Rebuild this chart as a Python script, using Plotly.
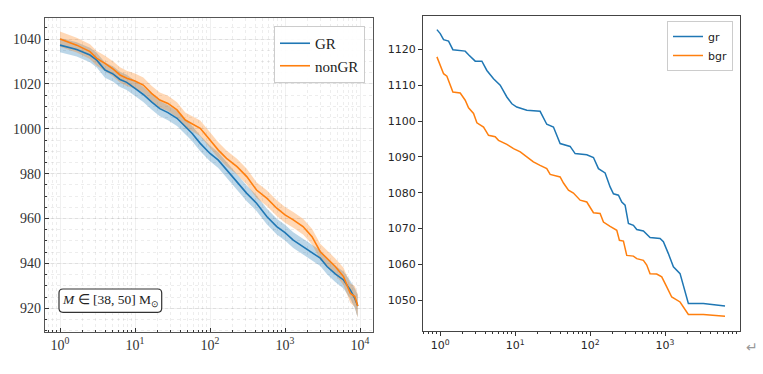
import plotly.graph_objects as go

# ---------------- data: left panel ----------------
left_x = [1, 1.67, 2.51, 3.09, 3.98, 5.13, 6.31, 7.76, 10, 12.9, 16.6, 21.4, 27.5, 36.3,
          46.8, 57.5, 74.1, 100, 129, 166, 229, 309, 417, 575, 776, 1000, 1288, 1738,
          2291, 2951, 3631, 4677, 6026, 7413, 8511, 9333]
gr_left = [1037.3, 1035.4, 1032.9, 1030.6, 1026.2, 1024.4, 1022, 1020.7, 1018, 1015.3,
           1012, 1009, 1007.2, 1004.7, 1001, 998, 993.5, 989, 986, 981.6, 976.4, 971.2,
           966.8, 960.8, 956.4, 953.7, 950.4, 947.5, 944.5, 942.3, 938.6, 935.3, 932.6,
           928.2, 924.4, 921]
nongr_left = [1040, 1037.3, 1034.4, 1031.4, 1029.2, 1026.6, 1024, 1022.5, 1021.3, 1019.5,
              1015.8, 1012.8, 1011.3, 1008.4, 1003.9, 1002.4, 1000.2, 995, 990.5, 986.8,
              983.1, 978.7, 972.7, 969, 964.6, 961.6, 959.4, 956.4, 951.9, 945.2, 942.3,
              938.6, 934.1, 926.7, 925.2, 921]
gr_err = [3.2, 3.2, 3.2, 3.3, 3.4, 3.4, 3.4, 3.4, 3.4, 3.4, 3.4, 3.4, 3.4, 3.4, 3.4, 3.4,
          3.5, 3.5, 3.5, 3.5, 3.5, 3.5, 3.5, 3.5, 3.5, 3.5, 3.5, 3.5, 3.5, 3.5, 3.5, 3.6,
          3.8, 4.0, 4.4, 5.0]
nongr_err = [3.4, 3.3, 3.3, 3.3, 3.4, 3.4, 3.4, 3.4, 3.4, 3.4, 3.4, 3.4, 3.4, 3.4, 3.4,
             3.4, 3.5, 3.5, 3.5, 3.5, 3.5, 3.5, 3.5, 3.5, 3.5, 3.5, 3.5, 3.5, 3.5, 3.5,
             3.5, 3.6, 3.9, 4.3, 4.7, 5.2]

# ---------------- data: right panel ----------------
gr_x = [0.903, 1.0, 1.108, 1.291, 1.475, 2.154, 2.387, 2.929, 3.594, 4.19, 5.14, 6.31,
        7.74, 9.03, 10.5, 14.3, 21.5, 23.9, 26.4, 32.4, 39.8, 54.1, 63.1, 90.3, 110.8,
        129.2, 158.5, 184.8, 204.8, 238.8, 264.5, 292.9, 324.4, 378.3, 419, 514, 569.8,
        631, 857.6, 950, 1107, 1292, 1585, 2047, 3245, 6310]
gr_y = [1125.5, 1124.4, 1122.7, 1122.3, 1119.9, 1119.5, 1118.5, 1116.7, 1116.7, 1114.1,
        1111.8, 1110, 1106.7, 1104.8, 1103.9, 1103, 1102.7, 1100.7, 1099.1, 1098.3,
        1093.7, 1092.9, 1090.9, 1090.6, 1089.8, 1086.7, 1085.5, 1081.6, 1079.7, 1079.3,
        1077.4, 1076.5, 1071.4, 1070.9, 1069.7, 1069.3, 1068.4, 1067.5, 1067.2, 1066.3,
        1063, 1059.3, 1057.4, 1049.1, 1049.1, 1048.4]
bgr_x = [0.903, 1.0, 1.108, 1.227, 1.359, 1.475, 1.848, 2.154, 2.387, 2.783, 3.084, 3.784,
         4.41, 5.41, 5.99, 7.74, 9.51, 11.7, 14.3, 17.5, 21.5, 26.4, 29.3, 39.8, 44.1,
         51.4, 59.9, 73.6, 90.3, 110.8, 135.9, 150.6, 184.8, 226.9, 246, 278.3, 308.2,
         378.3, 419, 514, 569.8, 631, 774, 903, 1053, 1227, 1585, 2047, 3245, 6310]
bgr_y = [1117.9, 1115.5, 1113.2, 1112.5, 1110, 1108.1, 1107.8, 1105.8, 1103.7, 1102.1,
         1099.5, 1098.3, 1096, 1095.6, 1094.6, 1093.5, 1092.3, 1091.4, 1090, 1088.6,
         1087.6, 1086.7, 1085.1, 1084.4, 1082.7, 1080.7, 1079.9, 1077.9, 1077.4, 1074.4,
         1074.2, 1071.8, 1070.6, 1069.5, 1066.7, 1066.5, 1062.5, 1062.3, 1061.6, 1061.1,
         1059.8, 1057.4, 1057.3, 1056.5, 1053.7, 1050.9, 1049.5, 1046, 1046, 1045.5]

left_ytick = [920, 940, 960, 980, 1000, 1020, 1040]
right_ytick = [1050, 1060, 1070, 1080, 1090, 1100, 1110, 1120]
left_xtick = [1, 10, 100, 1000, 10000]
left_xlabel = ["10<sup>0</sup>", "10<sup>1</sup>", "10<sup>2</sup>", "10<sup>3</sup>", "10<sup>4</sup>"]
right_xtick = [1, 10, 100, 1000]
right_xlabel = ["10<sup>0</sup>", "10<sup>1</sup>", "10<sup>2</sup>", "10<sup>3</sup>"]

BLUE = "#1f77b4"
ORANGE = "#ff7f0e"
SERIF = "Liberation Serif"
SANS = "DejaVu Sans"

minor_vals = [m * 10 ** d for d in range(-1, 5) for m in range(2, 10)]

fig = go.Figure()

# bands
for y, e, col in [(gr_left, gr_err, "rgba(31,119,180,0.3)"), (nongr_left, nongr_err, "rgba(255,127,14,0.3)")]:
    fig.add_trace(go.Scatter(x=left_x, y=[a + b for a, b in zip(y, e)], mode="lines",
                             line=dict(width=0, color=col), showlegend=False, hoverinfo="skip",
                             xaxis="x", yaxis="y"))
    fig.add_trace(go.Scatter(x=left_x, y=[a - b for a, b in zip(y, e)], mode="lines",
                             line=dict(width=0, color=col), fill="tonexty", fillcolor=col,
                             showlegend=False, hoverinfo="skip", xaxis="x", yaxis="y"))

fig.add_trace(go.Scatter(x=left_x, y=gr_left, mode="lines", name="GR",
                         line=dict(color=BLUE, width=1.6), xaxis="x", yaxis="y", legend="legend"))
fig.add_trace(go.Scatter(x=left_x, y=nongr_left, mode="lines", name="nonGR",
                         line=dict(color=ORANGE, width=1.6), xaxis="x", yaxis="y", legend="legend"))

fig.add_trace(go.Scatter(x=gr_x, y=gr_y, mode="lines", name="gr",
                         line=dict(color=BLUE, width=1.5), xaxis="x2", yaxis="y2", legend="legend2"))
fig.add_trace(go.Scatter(x=bgr_x, y=bgr_y, mode="lines", name="bgr",
                         line=dict(color=ORANGE, width=1.5), xaxis="x2", yaxis="y2", legend="legend2"))

W, H = 763, 374
lx0, lx1, ly0, ly1 = 45, 373, 18, 332
rx0, rx1, ry0, ry1 = 423, 740, 16, 331

def px(v):
    return v / W

def py(v):
    return 1 - v / H

grid_major = "rgba(0,0,0,0.06)"
grid_minor = "rgba(0,0,0,0.07)"

fig.update_layout(
    width=W, height=H,
    margin=dict(l=0, r=0, t=0, b=0),
    paper_bgcolor="white", plot_bgcolor="white",
    font=dict(family=SERIF),
    xaxis=dict(domain=[px(lx0), px(lx1)], anchor="y", type="log", range=[-0.2, 4.173],
               tickmode="array", tickvals=left_xtick, ticktext=left_xlabel,
               ticks="inside", ticklen=4, tickcolor="#333",
               showline=True, linecolor="#555", linewidth=1.2, mirror=True,
               showgrid=True, gridcolor=grid_major, gridwidth=1,
               tickfont=dict(family=SERIF, size=14, color="#333"),
               minor=dict(tickmode="array", tickvals=minor_vals, ticks="inside", ticklen=2,
                          tickcolor="#333", showgrid=True, gridcolor=grid_minor, griddash="dot"),
               zeroline=False),
    yaxis=dict(domain=[py(ly1), py(ly0)], anchor="x", range=[909.4, 1049.4],
               tickmode="array", tickvals=left_ytick,
               ticks="inside", ticklen=4, tickcolor="#333",
               showline=True, linecolor="#555", linewidth=1.2, mirror=True,
               showgrid=True, gridcolor=grid_major,
               tickfont=dict(family=SERIF, size=14, color="#333"),
               minor=dict(dtick=5, ticks="inside", ticklen=2, tickcolor="#333",
                          showgrid=True, gridcolor=grid_minor, griddash="dot"),
               zeroline=False),
    xaxis2=dict(domain=[px(rx0), px(rx1)], anchor="y2", type="log", range=[-0.23, 4.0],
                tickmode="array", tickvals=right_xtick, ticktext=right_xlabel,
                ticks="outside", ticklen=4, tickcolor="#333",
                showline=True, linecolor="#444", linewidth=1.2, mirror=True,
                showgrid=False,
                tickfont=dict(family=SANS, size=11, color="#262626"),
                minor=dict(tickmode="array", tickvals=minor_vals, ticks="outside", ticklen=2,
                           tickcolor="#333", showgrid=False),
                zeroline=False),
    yaxis2=dict(domain=[py(ry1), py(ry0)], anchor="x2", range=[1041.4, 1129.3],
                tickmode="array", tickvals=right_ytick,
                ticks="outside", ticklen=4, tickcolor="#333",
                showline=True, linecolor="#444", linewidth=1.2, mirror=True,
                showgrid=False,
                tickfont=dict(family=SANS, size=11, color="#262626"),
                zeroline=False),
    legend=dict(x=px(365), y=py(26), xanchor="right", yanchor="top", traceorder="normal",
                bgcolor="rgba(255,255,255,0.9)", bordercolor="#ccc", borderwidth=1,
                font=dict(family=SERIF, size=15, color="#222"), itemwidth=30),
    legend2=dict(x=px(733), y=py(21), xanchor="right", yanchor="top", traceorder="normal",
                 bgcolor="rgba(255,255,255,0.9)", bordercolor="#ccc", borderwidth=1,
                 font=dict(family=SANS, size=11, color="#222"), itemwidth=30),
    showlegend=True,
)

# rounded label box in left panel
bx0, bx1, by0, by1, r = 59, 161.7, 289, 312.3, 4
path = (f"M {px(bx0 + r)} {py(by0)} L {px(bx1 - r)} {py(by0)} Q {px(bx1)} {py(by0)} {px(bx1)} {py(by0 + r)} "
        f"L {px(bx1)} {py(by1 - r)} Q {px(bx1)} {py(by1)} {px(bx1 - r)} {py(by1)} "
        f"L {px(bx0 + r)} {py(by1)} Q {px(bx0)} {py(by1)} {px(bx0)} {py(by1 - r)} "
        f"L {px(bx0)} {py(by0 + r)} Q {px(bx0)} {py(by0)} {px(bx0 + r)} {py(by0)} Z")
fig.add_shape(type="path", path=path, xref="paper", yref="paper",
              line=dict(color="#333", width=1.2), fillcolor="white", layer="above")
fig.add_annotation(x=px((bx0 + bx1) / 2), y=py((by0 + by1) / 2), xref="paper", yref="paper",
                   xanchor="center", yanchor="middle",
                   text="<i>M</i> ∈ [38, 50] M<sub>⊙</sub>", showarrow=False,
                   font=dict(family=SERIF, size=13.5, color="#222"))
fig.add_annotation(x=px(752), y=py(347), xref="paper", yref="paper", text="↵", showarrow=False,
                   xanchor="center", yanchor="middle",
                   font=dict(family=SANS, size=14, color="#999"))

fig.write_html("out.html", config={"displayModeBar": False},
               post_script="document.body.style.margin='0';")
